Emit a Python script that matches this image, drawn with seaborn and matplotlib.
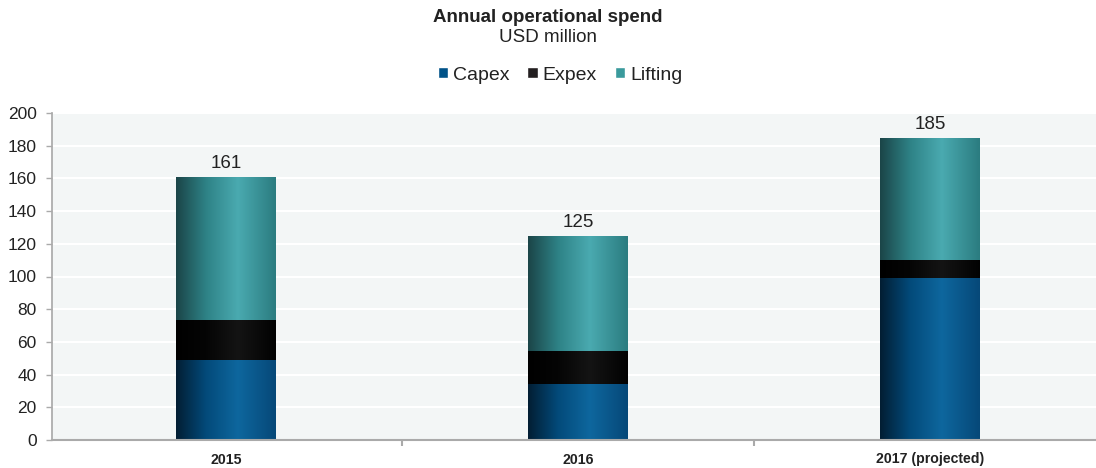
import numpy as np
import pandas as pd
import matplotlib
matplotlib.use("Agg")
import matplotlib.pyplot as plt
import seaborn as sns
from matplotlib.colors import to_rgb
from matplotlib.patches import Patch

years = ["2015", "2016", "2017 (projected)"]
capex = [50, 35, 100]
expex = [24, 20, 11]
lifting = [87, 70, 74]
totals = [161, 125, 185]
series_names = ["Capex", "Expex", "Lifting"]

legend_colors = {"Capex": "#005288", "Expex": "#231F20", "Lifting": "#3A9A9C"}
# gradient stops (left edge, dark, mid highlight, right)
grad_stops = {
    "Capex": ["#021E33", "#034A7A", "#0E679E", "#064878"],
    "Expex": ["#000000", "#050505", "#141414", "#020202"],
    "Lifting": ["#1B4548", "#2E8286", "#4AAAB0", "#2B7C80"],
}
grad_pos = [0.0, 0.3, 0.62, 1.0]

sns.set_theme(style="white")
plt.rcParams["font.family"] = ["Liberation Sans", "DejaVu Sans"]

fig = plt.figure(figsize=(10.96, 4.68), dpi=100)
ax = fig.add_axes([52 / 1096, 1 - 440 / 468, 1 - 52 / 1096, (440 - 113) / 468])
ax.set_facecolor("#F3F6F6")

df = pd.DataFrame({"year": years, "Capex": capex, "Expex": expex, "Lifting": lifting})
bottoms = np.zeros(len(years))
layer_patches = {}
for name in series_names:
    n_before = len(ax.patches)
    sns.barplot(data=df, x="year", y=name, bottom=bottoms, color=legend_colors[name],
                width=0.284, ax=ax, saturation=1, linewidth=0, label=name)
    layer_patches[name] = ax.patches[n_before:]
    bottoms = bottoms + np.array(df[name])

# gradient fill for each bar
xs = np.linspace(0, 1, 200)
for li, (name, patches) in enumerate(layer_patches.items()):
    cols = np.array([to_rgb(c) for c in grad_stops[name]])
    grad = np.stack([np.interp(xs, grad_pos, cols[:, k]) for k in range(3)], axis=-1)
    img = grad[np.newaxis, :, :]
    ov = 0.8 if li > 0 else 0.0
    for p in patches:
        x0, y0 = p.get_x(), p.get_y() - ov
        w, h = p.get_width(), p.get_height() + ov
        p.set_alpha(0)
        im = ax.imshow(img, extent=[x0, x0 + w, y0, y0 + h], aspect="auto", zorder=2 + li,
                       interpolation="bilinear")
        rect = plt.Rectangle((x0, y0), w, h, transform=ax.transData)
        im.set_clip_path(rect)

for i, t in enumerate(totals):
    ax.text(i, t + 3, str(t), ha="center", va="bottom", fontsize=13.5, color="#222222")

ax.set_xlim(-0.494, 2.472)
ax.set_ylim(0, 200)
ax.set_yticks(range(0, 201, 20))
ax.yaxis.grid(True, color="white", linewidth=1.5)
ax.set_axisbelow(True)
ax.set_xlabel("")
ax.set_ylabel("")
ax.tick_params(axis="y", labelsize=12.5, labelcolor="#222222", length=4, width=1, left=True,
               direction="out", pad=7, color="#AAAAAA")
ax.set_xticks(range(3))
ax.set_xticklabels(years, fontsize=10.2, fontweight="bold", color="#222222")
ax.tick_params(axis="x", length=0, pad=9)
ax.set_xticks([0.5, 1.5], minor=True)
ax.tick_params(axis="x", which="minor", length=4, width=1.5, color="#AAAAAA", bottom=True)
for s in ["top", "right"]:
    ax.spines[s].set_visible(False)
ax.spines["left"].set_color("#AAAAAA")
ax.spines["bottom"].set_color("#AAAAAA")
ax.spines["bottom"].set_linewidth(1.5)

if ax.get_legend() is not None:
    ax.get_legend().remove()
handles = [Patch(facecolor=legend_colors[n], label=n) for n in series_names]
fig.legend(handles=handles, loc="center", bbox_to_anchor=(0.511, 1 - 75 / 468), ncol=3,
           frameon=False, fontsize=14, handlelength=0.55, handleheight=0.55,
           handletextpad=0.25, columnspacing=0.9, labelcolor="#222222")

fig.text(0.5, 1 - 17 / 468, "Annual operational spend", ha="center", va="center",
         fontsize=13.5, fontweight="bold", color="#222222")
fig.text(0.5, 1 - 37 / 468, "USD million", ha="center", va="center", fontsize=13.5,
         color="#222222")

fig.savefig("out.png", dpi=100)
